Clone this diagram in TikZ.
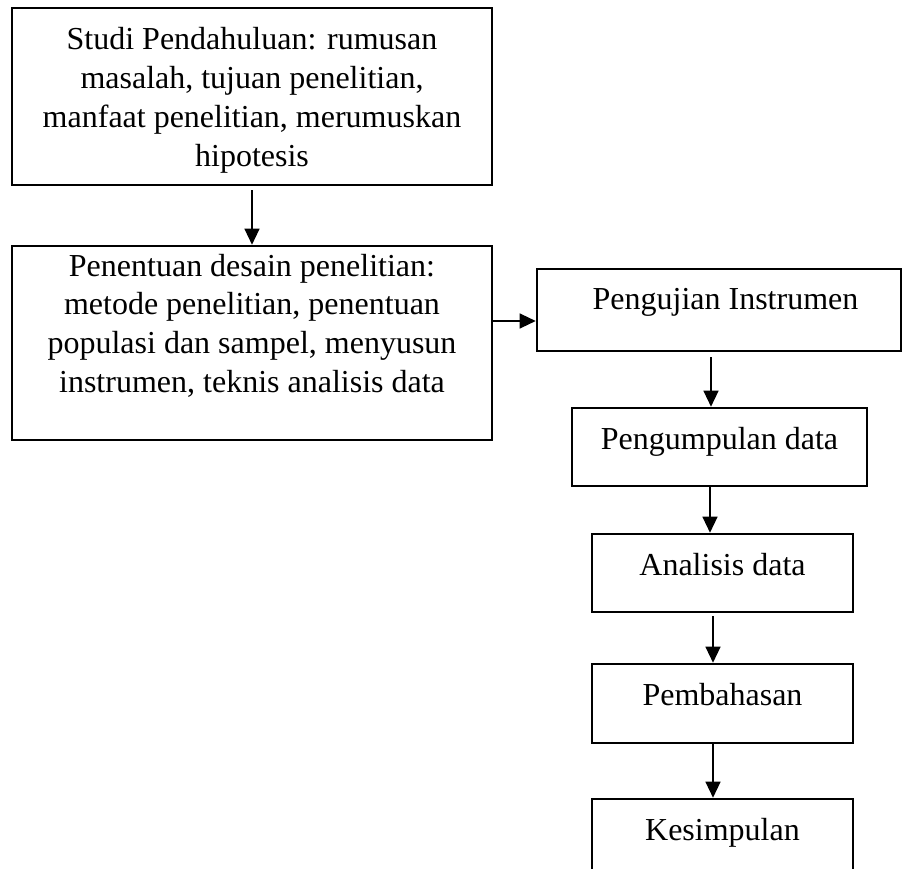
\documentclass[tikz,border=0pt]{standalone}
\usepackage{fontspec}
\setmainfont{Liberation Serif}
\usetikzlibrary{arrows.meta}

\tikzset{
  box/.style={draw=black,line width=2.6pt,rectangle,inner sep=0pt},
  txt/.style={anchor=base,align=center,inner sep=0pt,
              font=\fontsize{32}{38.8}\selectfont}
}

\begin{document}
\begin{tikzpicture}[x=1pt,y=-1pt]
\useasboundingbox (0,0) rectangle (903,869);
\clip (0,0) rectangle (903,869);
% boxes, left column then right column
\node[box,minimum width=480pt,minimum height=177pt] (b1) at (252,96.5) {};
\node[box,minimum width=480pt,minimum height=194pt] (b2) at (252,343) {};
\node[box,minimum width=364pt,minimum height=82pt] (b3) at (719,310) {};
\node[box,minimum width=295pt,minimum height=78pt] (b4) at (719.5,447) {};
\node[box,minimum width=261pt,minimum height=78pt] (b5) at (722.5,573) {};
\node[box,minimum width=261pt,minimum height=79pt] (b6) at (722.5,703.5) {};
\node[box,minimum width=261pt,minimum height=78pt] (b7) at (722.5,838) {};
% texts (base of a multi-line text is its last line)
\node[txt] (t1) at (252,166.4) {Studi Pendahuluan: rumusan\\masalah, tujuan penelitian,\\manfaat penelitian, merumuskan\\hipotesis};
\node[txt] (t2) at (252,392.4) {Penentuan desain penelitian:\\metode penelitian, penentuan\\populasi dan sampel, menyusun\\instrumen, teknis analisis data};
\node[txt] (t3) at (725.5,310) {Pengujian Instrumen};
\node[txt] (t4) at (719.5,449) {Pengumpulan data};
\node[txt] (t5) at (722.5,575) {Analisis data};
\node[txt] (t6) at (722.5,705) {Pembahasan};
\node[txt] (t7) at (722.5,840) {Kesimpulan};
\begin{scope}[>={Triangle[length=16pt,width=15pt]},
              every edge/.style={draw=black,line width=1.3pt}]
    \path [->] ([yshift=-4pt]b1.south) edge (b2.north);
    \path [->] ([yshift=-11pt]b3.west -| b2.east) edge ([yshift=-11pt]b3.west);
    \path [->] ([xshift=-8.5pt,yshift=-5pt]b4.north |- b3.south) edge ([xshift=-8.5pt]b4.north);
    \path [->] ([xshift=-9.5pt]b4.south) edge ([xshift=-12.5pt]b5.north);
    \path [->] ([xshift=-9.5pt,yshift=-3pt]b5.south) edge ([xshift=-9.5pt]b6.north);
    \path [->] ([xshift=-9.5pt]b6.south) edge ([xshift=-9.5pt]b7.north);
\end{scope}
\end{tikzpicture}
\end{document}
